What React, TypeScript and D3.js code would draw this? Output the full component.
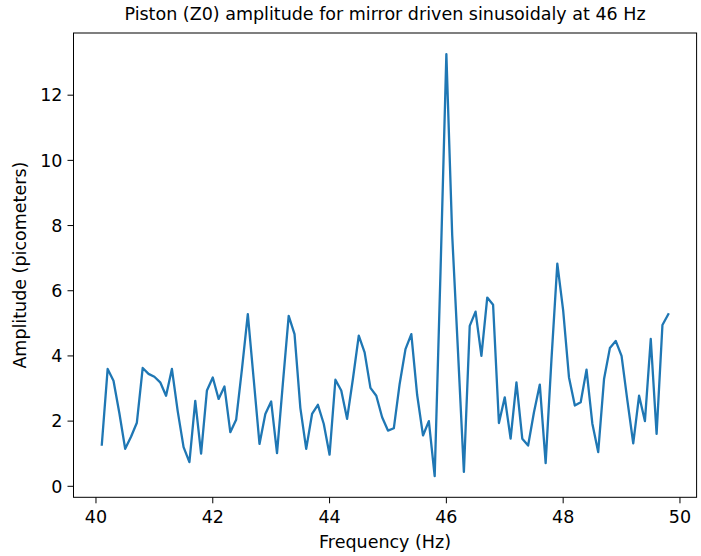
import React from "react";
import * as d3 from "d3";

const freqStart = 40.1;
const freqStep = 0.1;
const amplitudes: number[] = [
  1.28, 3.6, 3.24, 2.25, 1.15, 1.52, 1.95, 3.63, 3.45,
  3.36, 3.19, 2.78, 3.6, 2.3, 1.2, 0.74, 2.62, 1.0, 2.94,
  3.34, 2.68, 3.06, 1.66, 2.04, 3.6, 5.28, 3.3, 1.3, 2.22,
  2.6, 1.02, 3.15, 5.23, 4.67, 2.4, 1.15, 2.22, 2.5, 1.92,
  0.97, 3.27, 2.94, 2.07, 3.3, 4.62, 4.11, 3.02, 2.78, 2.12,
  1.71, 1.78, 3.14, 4.21, 4.67, 2.8, 1.56, 2.0, 0.31, 6.6,
  13.26, 7.7, 4.1, 0.44, 4.92, 5.36, 4.0, 5.79, 5.57, 1.94,
  2.73, 1.46, 3.19, 1.46, 1.25, 2.27, 3.12, 0.71, 3.9, 6.83,
  5.4, 3.34, 2.48, 2.58, 3.58, 1.92, 1.05, 3.29, 4.24, 4.46,
  4.0, 2.63, 1.32, 2.78, 2.0, 4.52, 1.61, 4.95, 5.28,
];
const frequencies: number[] = amplitudes.map((_, i) => +(freqStart + i * freqStep).toFixed(1));
const xTicks = [40, 42, 44, 46, 48, 50];
const yTicks = [0, 2, 4, 6, 8, 10, 12];

const title = "Piston (Z0) amplitude for mirror driven sinusoidaly at 46 Hz";
const xLabel = "Frequency (Hz)";
const yLabel = "Amplitude (picometers)";

export default function App() {
  const W = 701, H = 556;
  const left = 73.5, right = 696.6, top = 33, bottom = 497.3;
  const xMin = d3.min(frequencies)!, xMax = d3.max(frequencies)!;
  const yMin = d3.min(amplitudes)!, yMax = d3.max(amplitudes)!;
  const xPad = (xMax - xMin) * 0.05, yPad = (yMax - yMin) * 0.05;
  const x = d3.scaleLinear().domain([xMin - xPad, xMax + xPad]).range([left, right]);
  const y = d3.scaleLinear().domain([yMin - yPad, yMax + yPad]).range([bottom, top]);
  const line = d3.line<number>().x((_, i) => x(frequencies[i])).y((d) => y(d));
  const font = "'DejaVu Sans', sans-serif";
  const tickLen = 6;
  const tickFont = 17.5;
  const labelFont = 17.5;
  return (
    <svg width={W} height={H} style={{ position: "absolute", left: 0, top: 0, background: "#fff" }}>
      <rect x={0} y={0} width={W} height={H} fill="#fff" />
      <path d={line(amplitudes)!} fill="none" stroke="#1f77b4" strokeWidth={2.3} strokeLinejoin="round" strokeLinecap="square" />
      <rect x={left} y={top} width={right - left} height={bottom - top} fill="none" stroke="#000" strokeWidth={1} />
      {xTicks.map((t) => (
        <g key={"x" + t}>
          <line x1={x(t)} x2={x(t)} y1={bottom} y2={bottom + tickLen} stroke="#000" strokeWidth={1} />
          <text x={x(t)} y={bottom + 26} textAnchor="middle" fontFamily={font} fontSize={tickFont} fill="#000">{t}</text>
        </g>
      ))}
      {yTicks.map((t) => (
        <g key={"y" + t}>
          <line x1={left - tickLen} x2={left} y1={y(t)} y2={y(t)} stroke="#000" strokeWidth={1} />
          <text x={left - 11} y={y(t)} dy="0.36em" textAnchor="end" fontFamily={font} fontSize={tickFont} fill="#000">{t}</text>
        </g>
      ))}
      <text x={(left + right) / 2} y={548} textAnchor="middle" fontFamily={font} fontSize={labelFont} fill="#000">{xLabel}</text>
      <text transform={`translate(26,${(top + bottom) / 2}) rotate(-90)`} textAnchor="middle" fontFamily={font} fontSize={labelFont} fill="#000">{yLabel}</text>
      <text x={(left + right) / 2} y={20} textAnchor="middle" fontFamily={font} fontSize={labelFont} fill="#000">{title}</text>
    </svg>
  );
}
